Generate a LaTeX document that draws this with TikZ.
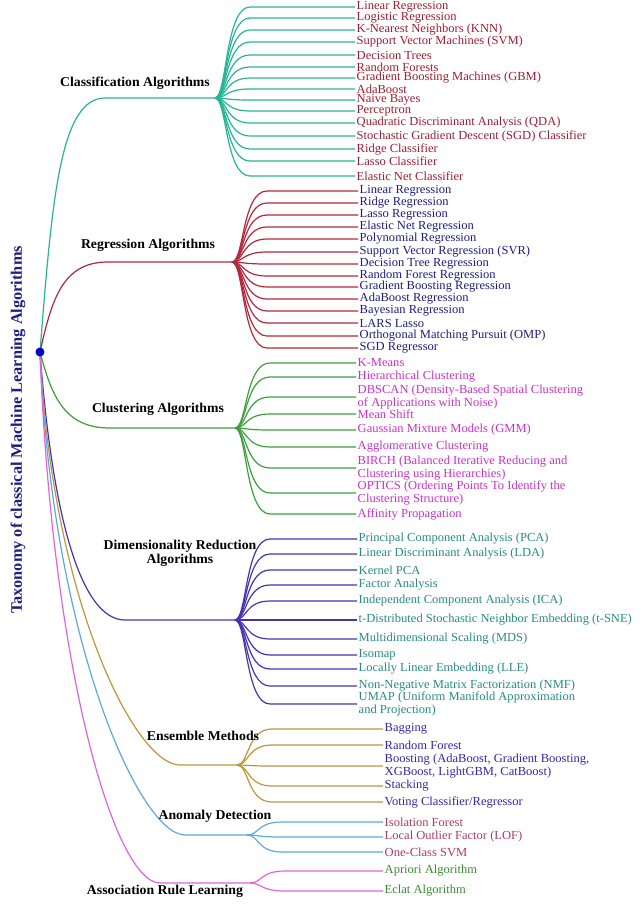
\documentclass[tikz,border=0pt]{standalone}
\usepackage{fontspec}
\setmainfont{Liberation Serif}[FakeStretch=1.02]
\usetikzlibrary{calc}
\begin{document}
\definecolor{cTeal}{RGB}{40,180,150}
\definecolor{cRed}{RGB}{180,40,60}
\definecolor{cGreen}{RGB}{60,160,60}
\definecolor{cPurple}{RGB}{70,50,180}
\definecolor{cGold}{RGB}{190,150,60}
\definecolor{cBlue}{RGB}{90,170,220}
\definecolor{cPink}{RGB}{225,100,220}
\definecolor{tRed}{RGB}{160,30,50}
\definecolor{tNavy}{RGB}{30,30,130}
\definecolor{tMag}{RGB}{200,50,200}
\definecolor{tTeal}{RGB}{40,140,130}
\definecolor{tNavy2}{RGB}{50,40,170}
\definecolor{tMauve}{RGB}{170,60,100}
\definecolor{tGreen}{RGB}{60,140,50}
\begin{tikzpicture}[x=1pt,y=-1pt,
  leaf/.style={anchor=west,inner sep=1.5pt,font=\fontsize{12.3}{10.5}\selectfont,align=left},
  cat/.style={font=\fontsize{13.5}{14}\selectfont\bfseries,align=center},
  br/.style={line width=1.2pt}]
\useasboundingbox (0,0) rectangle (640,905);
\fill[white] (0,0) rectangle (640,905);
\node[rotate=90,font=\fontsize{16}{16}\selectfont\bfseries,text=tNavy] (title) at (18,430) {Taxonomy of classical Machine Learning Algorithms};
\newcommand\mybranch[8]{%
  \coordinate (#8s) at (#3,#4);
  \coordinate (#8h) at (#5,#4);
  \draw[br,#1] (root) .. controls ($(root)+(12,{0.6*(#4-352)})$) and ({#3-45},#4) .. (#8s) -- (#8h);
  \foreach \yy/\tt [count=\i] in {#7} {
    \node[leaf,text=#2] (#8\i) at (#6,\yy) {\tt};
    \draw[br,#1] (#8h) .. controls ({#5+12},#4) and ({#5+10},\yy) .. ({#5+35},\yy) -- (#8\i.west);
  }}
\coordinate (root) at (40,352);
\mybranch{cTeal}{tRed}{105}{98}{215}{355}{7/Linear Regression,18/Logistic Regression,30/K-Nearest Neighbors (KNN),42/Support Vector Machines (SVM),55/Decision Trees,67/Random Forests,78/Gradient Boosting Machines (GBM),89/AdaBoost,100/Naive Bayes,111/Perceptron,123/Quadratic Discriminant Analysis (QDA),136/Stochastic Gradient Descent (SGD) Classifier,149/Ridge Classifier,161/Lasso Classifier,176/Elastic Net Classifier}{c}
\mybranch{cRed}{tNavy}{108}{262}{232}{358}{191/Linear Regression,203/Ridge Regression,215/Lasso Regression,227/Elastic Net Regression,239/Polynomial Regression,252/Support Vector Regression (SVR),264/Decision Tree Regression,276/Random Forest Regression,287/Gradient Boosting Regression,299/AdaBoost Regression,311/Bayesian Regression,323/LARS Lasso,336/Orthogonal Matching Pursuit (OMP),348/SGD Regressor}{r}
\mybranch{cGreen}{tMag}{110}{428}{235}{356}{363/K-Means,377/Hierarchical Clustering,397/{DBSCAN (Density-Based Spatial Clustering\\of Applications with Noise)},414/Mean Shift,430/Gaussian Mixture Models (GMM),447/Agglomerative Clustering,468/{BIRCH (Balanced Iterative Reducing and\\Clustering using Hierarchies)},493/{OPTICS (Ordering Points To Identify the\\Clustering Structure)},514/Affinity Propagation}{k}
\mybranch{cPurple}{tTeal}{125}{620}{235}{357}{539/Principal Component Analysis (PCA),554/Linear Discriminant Analysis (LDA),570/Kernel PCA,585/Factor Analysis,601/Independent Component Analysis (ICA),620/t-Distributed Stochastic Neighbor Embedding (t-SNE),639/Multidimensional Scaling (MDS),655/Isomap,669/Locally Linear Embedding (LLE),686/Non-Negative Matrix Factorization (NMF),704/{UMAP (Uniform Manifold Approximation\\and Projection)}}{d}
\mybranch{cGold}{tNavy2}{180}{765}{237}{383}{729/Bagging,745/Random Forest,766/{Boosting (AdaBoost, Gradient Boosting,\\XGBoost, LightGBM, CatBoost)},786/Stacking,802/{Voting Classifier/Regressor}}{e}
\mybranch{cBlue}{tMauve}{185}{835}{247}{383}{822/Isolation Forest,837/Local Outlier Factor (LOF),852/One-Class SVM}{a}
\mybranch{cPink}{tGreen}{160}{883}{250}{383}{871/Apriori Algorithm,891/Eclat Algorithm}{s}
\fill[blue!80!black] (root) circle (4.5);
\node[cat] (lc) at (135,83) {Classification Algorithms};
\node[cat] (lr) at (148,245) {Regression Algorithms};
\node[cat] (lk) at (158,409) {Clustering Algorithms};
\node[cat] (ld) at (180,553) {Dimensionality Reduction\\Algorithms};
\node[cat] (le) at (203,736) {Ensemble Methods};
\node[cat] (la) at (215,816) {Anomaly Detection};
\node[cat] (ls) at (165,891) {Association Rule Learning};
\end{tikzpicture}
\end{document}
